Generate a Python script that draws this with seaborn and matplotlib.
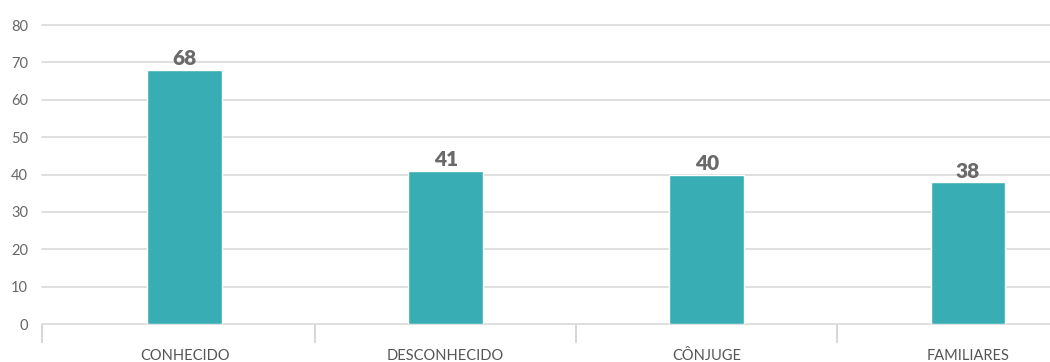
import matplotlib
matplotlib.use("Agg")
import matplotlib.pyplot as plt
import seaborn as sns
import pandas as pd
from matplotlib.ticker import FixedLocator

categories = ["CONHECIDO", "DESCONHECIDO", "CÔNJUGE", "FAMILIARES"]
values = [68, 41, 40, 38]
yticks = [0, 10, 20, 30, 40, 50, 60, 70, 80]

sns.set_theme(style="white")
plt.rcParams['font.family'] = ['Lato', 'DejaVu Sans']

df = pd.DataFrame({"cat": categories, "val": values})

fig = plt.figure(figsize=(10.5, 3.62), dpi=100)
ax = fig.add_axes([0.04, 38/362, 1 - 0.04, (324-25)/362])

sns.barplot(data=df, x="cat", y="val", color="#38AEB4", width=0.287,
            saturation=1, ax=ax, zorder=3)

ax.set_xlim(-0.546, 3.314)
ax.set_ylim(0, 80)
ax.set_yticks(yticks)
ax.yaxis.grid(True, color="#dcdcdc", linewidth=1.3, zorder=0)
for gl in ax.get_ygridlines():
    gl.set_clip_on(False)
ax.set_axisbelow(True)
for s in ax.spines.values():
    s.set_visible(False)

ax.set_xlabel("")
ax.set_ylabel("")
ax.tick_params(axis="y", length=0, labelsize=10.5, labelcolor="#666666", pad=10)
ax.tick_params(axis="x", which="major", length=0, labelsize=10.5, labelcolor="#555555", pad=18)
ax.xaxis.set_minor_locator(FixedLocator([-0.546, 0.5, 1.5, 2.5]))
ax.tick_params(axis="x", which="minor", bottom=True, length=14, width=1.2,
               color="#d0d0d0", direction="out")

for c in ax.containers:
    ax.bar_label(c, labels=[str(v) for v in values], padding=1, fontsize=15,
                 fontweight="heavy", color="#6a6a6a")

fig.savefig("out.png", dpi=100)
